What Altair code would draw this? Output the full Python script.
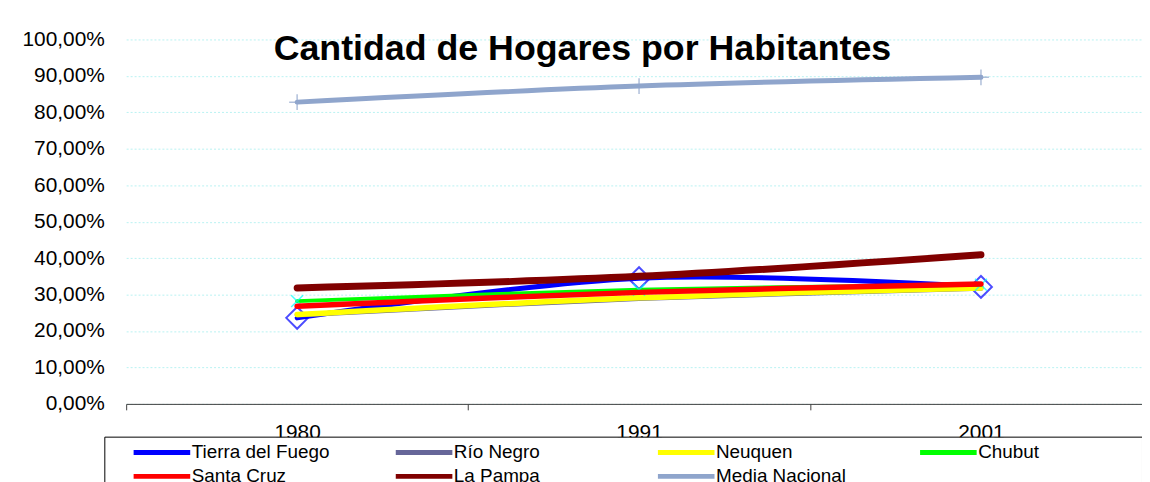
import altair as alt
import pandas as pd

years = ["1980", "1991", "2001"]
series = ["Tierra del Fuego", "Río Negro", "Neuquen", "Chubut",
          "Santa Cruz", "La Pampa", "Media Nacional"]
tierra_del_fuego = [0.236, 0.345, 0.321]
rio_negro = [0.244, 0.289, 0.317]
neuquen = [0.245, 0.291, 0.318]
chubut = [0.282, 0.313, 0.327]
santa_cruz = [0.268, 0.306, 0.329]
la_pampa = [0.318, 0.350, 0.409]
media_nacional = [0.828, 0.872, 0.896]
colors = ["#0000FF", "#666699", "#FFFF00", "#00FF00", "#FF0000", "#800000", "#8FA5CC"]
values = [tierra_del_fuego, rio_negro, neuquen, chubut, santa_cruz, la_pampa, media_nacional]
widths = [5, 5, 5.5, 4, 5.5, 7, 5]

rows = []
for name, vals in zip(series, values):
    for yr, v in zip(years, vals):
        rows.append({"serie": name, "anio": yr, "valor": v})
df = pd.DataFrame(rows)

FONT = "Liberation Sans"

x_enc = alt.X(
    "anio:O",
    title=None,
    scale=alt.Scale(type="band", paddingInner=0, paddingOuter=0, range=[0, 1033]),
    axis=alt.Axis(
        labelAngle=0, labelFontSize=21, labelFont=FONT, labelColor="black",
        tickBand="extent", tickSize=6, tickColor="#404040", domainColor="#404040",
        labelPadding=12, grid=False,
    ),
)
y_enc = alt.Y(
    "valor:Q",
    title=None,
    scale=alt.Scale(domain=[0, 1], nice=False, zero=True),
    axis=alt.Axis(
        values=[i / 10 for i in range(11)],
        labelExpr="replace(format(datum.value, '.2%'), '.', ',')",
        labelFontSize=21, labelFont=FONT, labelColor="black",
        ticks=False, domain=False, labelPadding=22,
        grid=True, gridColor="#B8F2F2", gridDash=[2, 2], gridWidth=1,
    ),
)
legend = alt.Legend(
    orient="none", legendX=-22, legendY=400, direction="horizontal", columns=4,
    title=" ", titleOrient="right", titlePadding=100, titleFontSize=4,
    symbolType="M-1,0L5,0", symbolSize=361, symbolStrokeWidth=5,
    labelFontSize=19, labelFont=FONT, labelColor="black", columnPadding=41,
    rowPadding=2, gridAlign="all", strokeColor="black", fillColor="white",
    padding=4, symbolOffset=23, labelOffset=37, labelLimit=400,
)
color_enc = alt.Color("serie:N", scale=alt.Scale(domain=series, range=colors), legend=legend)

base = alt.Chart(df)
layers = []
for name, w in zip(series, widths):
    sub = base.transform_filter(alt.datum.serie == name)
    layers.append(
        sub.mark_line(interpolate="cardinal", strokeWidth=w, strokeCap="round")
        .encode(x=x_enc, y=y_enc, color=color_enc)
    )
    if name == "Tierra del Fuego":
        layers.append(sub.mark_point(shape="diamond", size=484, filled=False,
                                     strokeWidth=2, color="#0000FF").encode(x=x_enc, y=y_enc))
    if name == "Chubut":
        layers.append(sub.mark_point(shape="M-1,-1L1,1M1,-1L-1,1", size=144, filled=False,
                                     strokeWidth=1.5, color="#00FFFF").encode(x=x_enc, y=y_enc))
    if name == "Media Nacional":
        layers.append(sub.mark_point(shape="M-1,0L1,0M0,-1L0,1", size=256, filled=False,
                                     strokeWidth=1.5, color="#8FA5CC").encode(x=x_enc, y=y_enc))

chart = alt.layer(*layers).properties(
    width=1023, height=367,
    title=alt.Title("Cantidad de Hogares por Habitantes", fontSize=36, font=FONT,
                    fontWeight="bold", color="black", anchor="middle", dx=-52,
                    offset=0, dy=68, baseline="alphabetic"),
    autosize=alt.AutoSizeParams(type="none"),
    padding={"left": 119, "top": 30, "right": 0, "bottom": 77},
).configure_view(stroke=None)

chart.save("out.html", embed_options={"renderer": "svg", "actions": False})
